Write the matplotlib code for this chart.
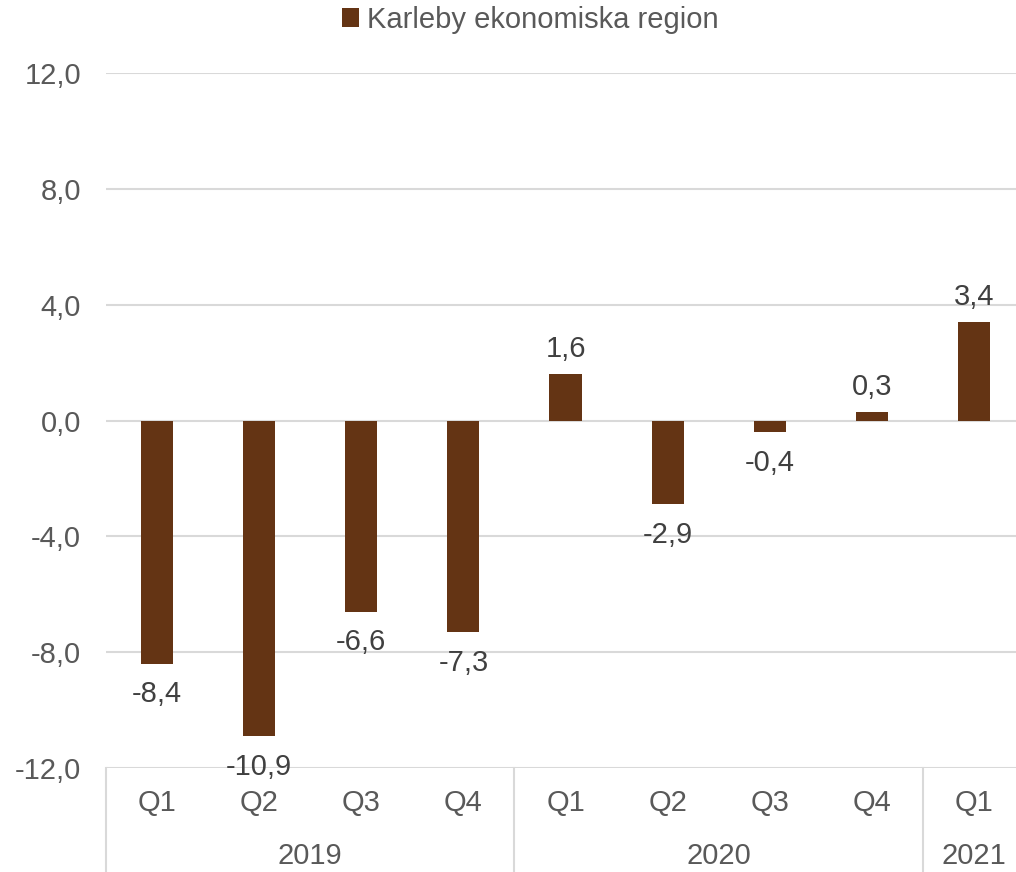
import matplotlib.pyplot as plt
import matplotlib.transforms as mtransforms
import numpy as np

plt.rcParams['font.family'] = ['Liberation Sans', 'DejaVu Sans']

quarters = ['Q1', 'Q2', 'Q3', 'Q4', 'Q1', 'Q2', 'Q3', 'Q4', 'Q1']
years = ['2019', '2020', '2021']
year_sizes = [4, 4, 1]
values = [-8.4, -10.9, -6.6, -7.3, 1.6, -2.9, -0.4, 0.3, 3.4]
series_name = 'Karleby ekonomiska region'

bar_color = '#643414'
grid_color = '#d9d9d9'
text_color = '#595959'
label_color = '#404040'
fs = 21

fig = plt.figure(figsize=(10.16, 8.72), dpi=100)
ax = fig.add_axes([106 / 1016, 1 - 768 / 872, (1025 - 106) / 1016, 695 / 872])

x = np.arange(len(values))
bars = ax.bar(x, values, width=0.315, color=bar_color, label=series_name, zorder=3)

ax.set_xlim(-0.5, len(values) - 0.5)
ax.set_ylim(-12, 12)
ax.set_yticks(np.arange(-12, 13, 4))
ax.set_yticklabels([f'{v:.1f}'.replace('.', ',') for v in np.arange(-12, 13, 4)])
ax.yaxis.grid(True, color=grid_color, linewidth=1.5, zorder=0)
ax.tick_params(axis='y', length=0, pad=18, labelsize=fs, labelcolor=text_color)
ax.set_xticks(x)
ax.set_xticklabels(quarters)
ax.tick_params(axis='x', length=0, pad=15, labelsize=fs, labelcolor=text_color)
for s in ax.spines.values():
    s.set_visible(False)

# value labels
for xi, v in zip(x, values):
    txt = f'{v:.1f}'.replace('.', ',')
    if v >= 0:
        ax.annotate(txt, (xi, v), xytext=(0, 8), textcoords='offset points',
                    ha='center', va='bottom', fontsize=fs, color=label_color)
    else:
        ax.annotate(txt, (xi, v), xytext=(0, -12), textcoords='offset points',
                    ha='center', va='top', fontsize=fs, color=label_color)

# year groups under the quarters
trans = mtransforms.blended_transform_factory(ax.transData, ax.transAxes)
start = -0.5
bounds = [start]
for yr, n in zip(years, year_sizes):
    center = start + n / 2
    ax.text(center, -0.127, yr, transform=trans, ha='center', va='center',
            fontsize=fs, color=text_color)
    start += n
    bounds.append(start)
for b in bounds[:-1]:
    ax.plot([b, b], [0, -0.2], transform=trans, color=grid_color,
            linewidth=1.5, clip_on=False)

fig.legend(handles=[bars], labels=[series_name], loc='center',
           bbox_to_anchor=(530 / 1016, 1 - 20 / 872), frameon=False,
           fontsize=fs, labelcolor=text_color, handlelength=0.6,
           handleheight=0.6, handletextpad=0.25)

fig.savefig('out.png', dpi=100)
